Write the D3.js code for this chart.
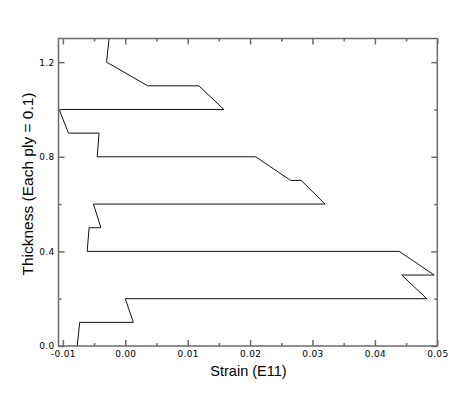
<!DOCTYPE html>
<html>
<head>
<meta charset="utf-8">
<script src="https://cdn.jsdelivr.net/npm/d3@7"></script>
<style>
  body { margin: 0; background: #fff; }
  .tick text { font-family: "DejaVu Sans", Verdana, sans-serif; font-size: 9px; letter-spacing: 0.3px; fill: #000; }
  .title { font-family: "Liberation Sans", Arial, sans-serif; fill: #000; }
</style>
</head>
<body>
<div id="chart"></div>
<script>
// strain at the bottom and top of every ply, thickness in steps of 0.1
const THICKNESS = [0.0, 0.1, 0.1, 0.2, 0.2, 0.3, 0.3, 0.4, 0.4, 0.5, 0.5, 0.6, 0.6,
                   0.7, 0.7, 0.8, 0.8, 0.9, 0.9, 1.0, 1.0, 1.1, 1.1, 1.2, 1.3];
const STRAIN = [-0.0077, -0.0073, 0.0013, 0.0000, 0.0483, 0.0443, 0.0495, 0.0439, -0.0061,
                -0.0058, -0.0039, -0.0051, 0.0320, 0.0282, 0.0265, 0.0209, -0.0045,
                -0.0042, -0.0091, -0.0106, 0.0158, 0.0118, 0.0036, -0.0030, -0.0026];
const X_MAJOR = [-0.01, 0.00, 0.01, 0.02, 0.03, 0.04, 0.05];
const X_MINOR = [-0.005, 0.005, 0.015, 0.025, 0.035, 0.045];
const Y_MAJOR = [0.0, 0.4, 0.8, 1.2];
const Y_MINOR = [0.2, 0.6, 1.0];

const WIDTH = 473;
const HEIGHT = 396;
const LEFT = 58.5, RIGHT = 437.3, TOP = 38.5, BOTTOM = 346;
const AXIS_COLOR = "#6a6a6a";
const MAJOR = 6, MINOR = 3;

const svg = d3.select("#chart")
    .append("svg")
    .attr("width", WIDTH)
    .attr("height", HEIGHT);

const xScale = d3.scaleLinear().domain([-0.0107, 0.05]).range([LEFT, RIGHT]);
const yScale = d3.scaleLinear().domain([0, 1.3]).range([BOTTOM, TOP]);

// data line
const line = d3.line()
    .x((d, i) => xScale(STRAIN[i]))
    .y((d) => yScale(d));

svg.append("path")
    .datum(THICKNESS)
    .attr("d", line)
    .attr("fill", "none")
    .attr("stroke", "#111")
    .attr("stroke-width", 1);

function addAxis(axis, transform, values, size, labels) {
    const g = svg.append("g")
        .attr("transform", transform)
        .call(axis.tickValues(values)
                  .tickSize(-size)
                  .tickSizeOuter(0)
                  .tickPadding(labels ? 5 : 0)
                  .tickFormat(labels ? labels : ""));
    g.select(".domain").remove();
    g.selectAll(".tick line")
        .attr("stroke", AXIS_COLOR)
        .attr("stroke-width", 1.5);
    return g;
}

const fx = (d) => d.toFixed(2);
const fy = (d) => d.toFixed(1);

// bottom and left with labels, top and right mirrored
addAxis(d3.axisBottom(xScale), "translate(0," + BOTTOM + ")", X_MAJOR, MAJOR, fx);
addAxis(d3.axisBottom(xScale), "translate(0," + BOTTOM + ")", X_MINOR, MINOR, null);
addAxis(d3.axisTop(xScale), "translate(0," + TOP + ")", X_MAJOR, MAJOR, null);
addAxis(d3.axisTop(xScale), "translate(0," + TOP + ")", X_MINOR, MINOR, null);
const yl = addAxis(d3.axisLeft(yScale), "translate(" + LEFT + ",0)", Y_MAJOR, MAJOR, fy);
yl.selectAll(".tick text").attr("dx", 1);
addAxis(d3.axisLeft(yScale), "translate(" + LEFT + ",0)", Y_MINOR, MINOR, null);
addAxis(d3.axisRight(yScale), "translate(" + RIGHT + ",0)", Y_MAJOR, MAJOR, null);
addAxis(d3.axisRight(yScale), "translate(" + RIGHT + ",0)", Y_MINOR, MINOR, null);

// frame
svg.append("rect")
    .attr("x", LEFT)
    .attr("y", TOP)
    .attr("width", RIGHT - LEFT)
    .attr("height", BOTTOM - TOP)
    .attr("fill", "none")
    .attr("stroke", AXIS_COLOR)
    .attr("stroke-width", 1.5);

// titles
svg.append("text")
    .attr("class", "title")
    .attr("x", 248.5)
    .attr("y", 376)
    .attr("text-anchor", "middle")
    .style("font-size", "14.5px")
    .text("Strain (E11)");

svg.append("text")
    .attr("class", "title")
    .attr("transform", "translate(33,184) rotate(-90)")
    .attr("text-anchor", "middle")
    .style("font-size", "15.5px")
    .text("Thickness (Each ply = 0.1)");
</script>
</body>
</html>
